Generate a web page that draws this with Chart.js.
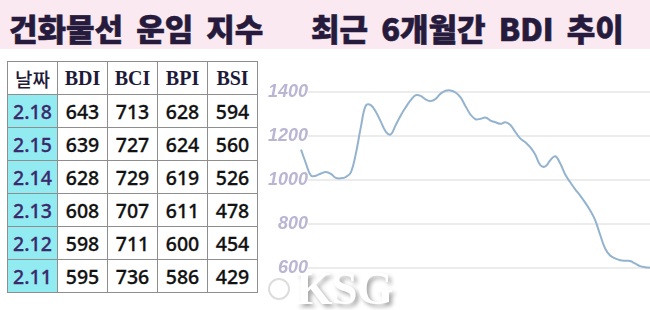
<!DOCTYPE html>
<html>
<head>
<meta charset="utf-8">
<script src="https://cdn.jsdelivr.net/npm/chart.js@4.4.1/dist/chart.umd.min.js"></script>
<style>
	html, body { margin: 0; padding: 0; background: #fff; }
	#wrap { position: relative; width: 650px; height: 310px; overflow: hidden; background: #fff; }
	#band { position: absolute; left: 0; top: 0; width: 650px; height: 49px; background: #fbe9f1; }
	.title { position: absolute; top: 0; line-height: 56px; font-family: "Noto Sans CJK KR", sans-serif; font-weight: 900; font-size: 31px; color: #261b3c; white-space: nowrap; word-spacing: 6px; -webkit-text-stroke: 0.6px #261b3c; }
	#t1 { left: 9px; }
	#t2 { left: 311px; }
	table { position: absolute; left: 7px; top: 61px; border-collapse: collapse; background: #fff; }
	td, th { border: 1.5px solid #8e8e8e; width: 49px; height: 32px; padding: 0; text-align: center; }
	th { font-family: "Liberation Serif", serif; font-weight: bold; font-size: 20px; color: #1d1a3a; }
	th.kr { font-family: "Noto Sans CJK KR", sans-serif; font-weight: 500; font-size: 19px; color: #231a3a; }
	td { font-family: "Noto Sans", sans-serif; font-weight: 500; font-size: 19.5px; color: #111; -webkit-text-stroke: 0.3px #111; }
	td.date { background: #93ebf2; color: #3a2a6b; -webkit-text-stroke: 0.3px #3a2a6b; }
	#box { position: absolute; left: 265px; top: 59px; width: 385px; height: 251px; }
	#mark { position: absolute; left: 296px; top: 261px; font-family: "Liberation Serif", serif; font-weight: bold; font-size: 47px; color: #fff; text-shadow: 3px 3px 4px rgba(0,0,0,0.35); letter-spacing: -1px; }
	#logo { position: absolute; left: 268px; top: 278px; width: 18px; height: 18px; border: 2px solid #ddd; border-radius: 50%; background: rgba(255,255,255,0.8); }
</style>
</head>
<body>
<div id="wrap">
	<div id="band"></div>
	<div class="title" id="t1">건화물선 운임 지수</div>
	<div class="title" id="t2">최근 6개월간 BDI 추이</div>
	<table id="tbl"></table>
	<div id="box"><canvas id="bdiChart" width="385" height="251"></canvas></div>
	<div id="logo"></div>
	<div id="mark">KSG</div>
</div>
<script>
// table values
var headers = ['날짜', 'BDI', 'BCI', 'BPI', 'BSI'];
var dates = ['2.18', '2.15', '2.14', '2.13', '2.12', '2.11'];
var bdi = [643, 639, 628, 608, 598, 595];
var bci = [713, 727, 729, 707, 711, 736];
var bpi = [628, 624, 619, 611, 600, 586];
var bsi = [594, 560, 526, 478, 454, 429];

// BDI trend over the last 6 months
var trend = [1138, 1075, 1020, 1020, 1030, 1037, 1028, 1010, 1008, 1014,
	1035, 1120, 1240, 1338, 1340, 1310, 1265, 1220, 1207, 1250,
	1293, 1330, 1362, 1385, 1382, 1366, 1358, 1368, 1392, 1405,
	1406, 1397, 1375, 1335, 1297, 1276, 1278, 1284, 1270, 1262,
	1255, 1262, 1250, 1218, 1188, 1172, 1148, 1115, 1068, 1062,
	1090, 1108, 1075, 1025, 990, 958, 930, 898, 862, 818,
	752, 690, 658, 645, 637, 634, 633, 622, 610, 605, 603];
var days = trend.map(function (v, i) { return i; });
var yTicks = [600, 800, 1000, 1200, 1400];

function buildTable() {
	var tbl = document.getElementById('tbl');
	var html = '<tr>';
	headers.forEach(function (h, i) {
		html += '<th' + (i === 0 ? ' class="kr"' : '') + '>' + h + '</th>';
	});
	html += '</tr>';
	dates.forEach(function (d, i) {
		html += '<tr><td class="date">' + d + '</td><td>' + bdi[i] + '</td><td>' + bci[i] +
			'</td><td>' + bpi[i] + '</td><td>' + bsi[i] + '</td></tr>';
	});
	tbl.innerHTML = html;
}

function start() {
	buildTable();
	var ctx = document.getElementById('bdiChart').getContext('2d');
	var bdiChart = new Chart(ctx, {
		type: 'line',
		data: {
			labels: days,
			datasets: [{
				data: trend,
				borderColor: '#94b3ce',
				borderWidth: 2,
				pointRadius: 0,
				tension: 0.4,
				fill: false,
				clip: false
			}]
		},
		options: {
			responsive: false,
			animation: false,
			layout: { padding: 0 },
			plugins: { legend: { display: false }, tooltip: { enabled: false } },
			scales: {
				x: {
					type: 'linear',
					display: false,
					bounds: 'data',
					// the line in the picture starts a little left of the grid lines
					afterDataLimits: function (scale) { scale.min = 1.4; scale.max = days.length - 1; }
				},
				y: {
					min: 460,
					max: 1500,
					afterBuildTicks: function (scale) {
						scale.ticks = yTicks.map(function (v) { return { value: v }; });
					},
					afterFit: function (scale) { scale.width = 43; },
					border: { display: false },
					grid: { color: '#ececec', lineWidth: 2, drawTicks: false },
					ticks: {
						padding: 0,
						color: '#bab5d3',
						font: { family: 'Liberation Sans', size: 18, style: 'italic', weight: 'bold' },
						callback: function (v) { return String(v); }
					}
				}
			}
		}
	});
}

window.onload = start;
</script>
</body>
</html>
